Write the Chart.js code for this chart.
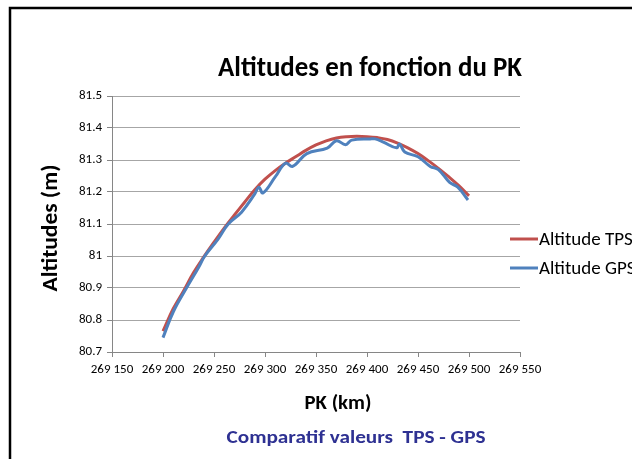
<!DOCTYPE html>
<html>
<head>
<meta charset="utf-8">
<title>Altitudes en fonction du PK</title>
<script src="https://cdn.jsdelivr.net/npm/chart.js@4.4.1/dist/chart.umd.min.js"></script>
<style>
    html, body { margin: 0; padding: 0; background: #fff; overflow: hidden; }
    canvas { display: block; }
</style>
</head>
<body>
<canvas id="altChart" width="632" height="459"></canvas>
<script>
// ######### données - altitudes TPS / GPS
// ###########################################

const pkTps = [269200, 269210, 269220, 269230, 269240, 269250, 269260, 269270, 269280, 269290,
               269300, 269310, 269320, 269330, 269340, 269350, 269360, 269370, 269380, 269390,
               269400, 269410, 269420, 269430, 269440, 269450, 269460, 269470, 269480, 269490, 269500];
const altTps = [80.765, 80.835, 80.89, 80.948, 80.997, 81.043, 81.087, 81.128, 81.168, 81.207,
                81.24, 81.267, 81.29, 81.31, 81.33, 81.347, 81.36, 81.369, 81.373, 81.374,
                81.373, 81.37, 81.364, 81.353, 81.338, 81.32, 81.298, 81.274, 81.248, 81.22, 81.188];

const pkGps = [269200, 269210, 269223, 269235, 269241, 269254, 269264, 269277, 269290, 269294, 269298,
               269310, 269320, 269327, 269341, 269361, 269370, 269379, 269385, 269403, 269408,
               269416, 269429, 269432, 269437, 269450, 269462, 269470, 269481, 269489, 269499];
const altGps = [80.745, 80.825, 80.9, 80.965, 81.0, 81.053, 81.10, 81.137, 81.194, 81.215, 81.197,
                81.247, 81.29, 81.28, 81.32, 81.337, 81.36, 81.348, 81.362, 81.366, 81.366,
                81.356, 81.338, 81.35, 81.325, 81.31, 81.28, 81.27, 81.23, 81.215, 81.175];

const seriesLabels = ['Altitude TPS', 'Altitude GPS'];
const seriesColors = ['#c0504d', '#4f81bd'];

const pkRange = [269150, 269550, 50];
const altRange = [80.7, 81.5, 0.1];

const FONT = "Carlito, Lato, 'Open Sans', sans-serif";

// "269 150"
function formatPk(v) {
    const s = String(Math.round(v));
    return s.slice(0, s.length - 3) + ' ' + s.slice(-3);
}

function points(xs, ys) {
    return xs.map((x, i) => ({ x: x, y: ys[i] }));
}

// texte ajusté à une largeur donnée
function fitText(ctx, text, x, y, width, font, color, angle) {
    ctx.save();
    ctx.font = font;
    ctx.fillStyle = color;
    ctx.textAlign = 'center';
    ctx.textBaseline = 'alphabetic';
    const sx = width / ctx.measureText(text).width;
    ctx.translate(x, y);
    if (angle) ctx.rotate(angle);
    ctx.scale(sx, 1);
    ctx.fillText(text, 0, 0);
    ctx.restore();
}

// ######### cadre, titres et légende
// ###########################################

const decor = {
    id: 'decor',
    afterDraw(chart) {
        const ctx = chart.ctx;

        // cadre
        ctx.save();
        ctx.strokeStyle = '#000';
        ctx.lineWidth = 2.5;
        ctx.beginPath();
        ctx.moveTo(10, 470);
        ctx.lineTo(10, 8);
        ctx.lineTo(640, 8);
        ctx.stroke();
        ctx.restore();

        fitText(ctx, 'Altitudes en fonction du PK', 370, 76, 304, 'bold 29px ' + FONT, '#000');
        fitText(ctx, 'PK (km)', 338, 409, 67, 'bold 21px ' + FONT, '#000');
        fitText(ctx, 'Comparatif valeurs  TPS - GPS', 356, 443, 259, 'bold 18px ' + FONT, '#2e3192');
        fitText(ctx, 'Altitudes (m)', 57, 228, 127, 'bold 22px ' + FONT, '#000', -Math.PI / 2);

        // légende
        ctx.save();
        ctx.font = '19px ' + FONT;
        ctx.textBaseline = 'middle';
        ctx.textAlign = 'left';
        ctx.lineWidth = 3;
        seriesLabels.forEach((lab, i) => {
            const y = 239 + i * 29;
            ctx.strokeStyle = seriesColors[i];
            ctx.beginPath();
            ctx.moveTo(510, y);
            ctx.lineTo(538, y);
            ctx.stroke();
            ctx.fillStyle = '#000';
            ctx.fillText(lab, 539, y + 1);
        });
        ctx.restore();
    }
};

// ######### graphique
// ###########################################

const altChart = document.getElementById('altChart');

if(altChart) {
    var ctx = altChart.getContext('2d');
    var chart = new Chart(ctx, {
        type: 'line',
        data: {
            datasets: [{
                label: seriesLabels[0],
                data: points(pkTps, altTps),
                borderColor: seriesColors[0],
                borderWidth: 3,
                pointRadius: 0,
                tension: 0.4,
                order: 2
            },
            {
                label: seriesLabels[1],
                data: points(pkGps, altGps),
                borderColor: seriesColors[1],
                borderWidth: 3,
                pointRadius: 0,
                tension: 0.4,
                order: 1
            }]
        },
        options: {
            responsive: false,
            animation: false,
            layout: { padding: { left: 0, right: 112, top: 96, bottom: 0 } },
            plugins: {
                legend: { display: false },
                title: { display: false },
                tooltip: { enabled: false }
            },
            scales: {
                x: {
                    type: 'linear',
                    min: pkRange[0],
                    max: pkRange[1],
                    afterFit: (s) => { s.height = 107; },
                    grid: { drawOnChartArea: false, drawTicks: true, tickLength: 5, color: '#868686' },
                    border: { color: '#868686', width: 1 },
                    ticks: {
                        stepSize: pkRange[2],
                        autoSkip: false,
                        maxRotation: 0,
                        padding: 5,
                        color: '#000',
                        font: { family: FONT, size: 13 },
                        callback: (v) => formatPk(v)
                    }
                },
                y: {
                    min: altRange[0],
                    max: altRange[1],
                    afterFit: (s) => { s.width = 112; },
                    grid: { color: '#a6a6a6', tickColor: '#868686', tickLength: 5 },
                    border: { color: '#868686', width: 1 },
                    ticks: {
                        stepSize: altRange[2],
                        padding: 5,
                        color: '#000',
                        font: { family: FONT, size: 13 },
                        callback: (v) => String(+v.toFixed(1))
                    }
                }
            }
        },
        plugins: [decor]
    });
}
</script>
</body>
</html>
